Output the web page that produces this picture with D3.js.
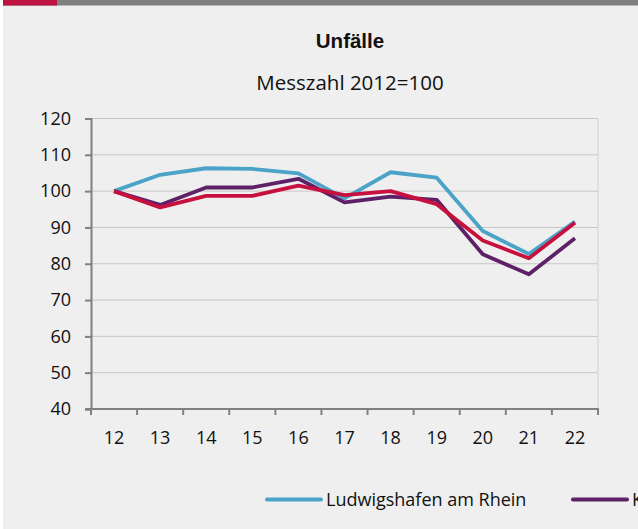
<!DOCTYPE html>
<html>
<head>
<meta charset="utf-8">
<script src="https://cdn.jsdelivr.net/npm/d3@7"></script>
<style>
  body { margin: 0; background: #fff; }
  svg { display: block; }
</style>
</head>
<body>
<div class="chart"></div>
<script>
var years = ['12', '13', '14', '15', '16', '17', '18', '19', '20', '21', '22'];
var yTicks = [40, 50, 60, 70, 80, 90, 100, 110, 120];
var seriesNames = ['Ludwigshafen am Rhein', 'Kreisfreie Städte', 'Rheinland-Pfalz'];
var ludwigshafen = [100, 104.5, 106.3, 106.1, 104.9, 98.0, 105.2, 103.7, 89.0, 82.7, 91.6];
var kreisfreie = [100, 96.2, 101.0, 101.0, 103.4, 96.9, 98.5, 97.6, 82.6, 77.1, 87.0];
var rlp = [100, 95.5, 98.7, 98.7, 101.5, 98.9, 100.0, 96.4, 86.4, 81.5, 91.3];
var colors = ['#4ba3c7', '#5e2066', '#c8103e'];

var W = 638, H = 529;
var plot = {left: 91, right: 598, top: 118.5, bottom: 409};
var font = 'Open Sans, Noto Sans, sans-serif';

var svg = d3.select('.chart').append('svg')
  .attr('width', W)
  .attr('height', H);

// panel + header bar
svg.append('rect').attr('x', 3).attr('y', 0).attr('width', W - 3).attr('height', H).attr('fill', '#eeefee');
svg.append('rect').attr('x', 3).attr('y', 0).attr('width', W - 3).attr('height', 5.5).attr('fill', '#808080');
svg.append('rect').attr('x', 3).attr('y', 0).attr('width', 54).attr('height', 5.5).attr('fill', '#be1341');

svg.append('text')
  .attr('x', 350).attr('y', 48)
  .attr('text-anchor', 'middle')
  .attr('font-family', 'Liberation Sans, Arial, sans-serif')
  .attr('font-weight', 'bold')
  .attr('font-size', 20.5)
  .attr('fill', '#111')
  .text('Unfälle');

svg.append('text')
  .attr('x', 350).attr('y', 90)
  .attr('text-anchor', 'middle')
  .attr('font-family', font)
  .attr('font-size', 20.5)
  .attr('fill', '#111')
  .text('Messzahl 2012=100');

var x = d3.scaleBand()
  .domain(years)
  .range([plot.left, plot.right]);

var y = d3.scaleLinear()
  .domain([40, 120])
  .range([plot.bottom, plot.top]);

// gridlines
svg.append('g').selectAll('line')
  .data(yTicks.slice(1))
  .enter().append('line')
    .attr('x1', plot.left).attr('x2', plot.right)
    .attr('y1', d => y(d)).attr('y2', d => y(d))
    .attr('stroke', '#c6c6c6')
    .attr('stroke-width', 1);

// right border of plot
svg.append('line')
  .attr('x1', plot.right).attr('x2', plot.right)
  .attr('y1', plot.top).attr('y2', plot.bottom)
  .attr('stroke', '#d6d6d6')
  .attr('stroke-width', 1.2);

// y axis
var yAxis = d3.axisLeft(y).tickValues(yTicks).tickSize(6).tickPadding(14);
var gY = svg.append('g')
  .attr('transform', `translate(${plot.left}, 0)`)
  .call(yAxis);
gY.select('.domain').attr('stroke', '#808080').attr('stroke-width', 2);
gY.selectAll('.tick line').attr('stroke', '#808080').attr('stroke-width', 2);
gY.selectAll('.tick text')
  .attr('font-family', font)
  .attr('font-size', 18)
  .attr('fill', '#111');

// x axis: ticks at band edges, labels at band centres
var edges = years.map(d => x(d)).concat([plot.right]);
var gX = svg.append('g');
gX.append('line')
  .attr('x1', plot.left - 6).attr('x2', plot.right + 1)
  .attr('y1', plot.bottom).attr('y2', plot.bottom)
  .attr('stroke', '#808080').attr('stroke-width', 2);
gX.selectAll('.xt')
  .data(edges)
  .enter().append('line')
    .attr('class', 'xt')
    .attr('x1', d => d).attr('x2', d => d)
    .attr('y1', plot.bottom).attr('y2', plot.bottom + 6)
    .attr('stroke', '#808080').attr('stroke-width', 2);
gX.selectAll('text')
  .data(years)
  .enter().append('text')
    .attr('x', d => x(d) + x.bandwidth() / 2)
    .attr('y', plot.bottom + 35)
    .attr('text-anchor', 'middle')
    .attr('font-family', font)
    .attr('font-size', 18)
    .attr('fill', '#111')
    .text(d => d);

// series
var series = [ludwigshafen, kreisfreie, rlp];
var line = d3.line()
  .x((d, i) => x(years[i]) + x.bandwidth() / 2)
  .y(d => y(d));

svg.append('g').selectAll('path')
  .data(series)
  .enter().append('path')
    .attr('d', d => line(d))
    .attr('fill', 'none')
    .attr('stroke', (d, i) => colors[i])
    .attr('stroke-width', 3.8)
    .attr('stroke-linejoin', 'round');

// legend (runs past the right edge, as in the original)
var legendX = [267, 573, 900];
var legend = svg.append('g').selectAll('g')
  .data(seriesNames)
  .enter().append('g')
    .attr('transform', (d, i) => `translate(${legendX[i]}, 499.5)`);
legend.append('line')
  .attr('x1', 0).attr('x2', 54)
  .attr('stroke', (d, i) => colors[i])
  .attr('stroke-width', 4)
  .attr('stroke-linecap', 'round');
legend.append('text')
  .attr('x', 59).attr('y', 6.5)
  .attr('font-family', font)
  .attr('font-size', 18)
  .attr('fill', '#111')
  .text(d => d);
</script>
</body>
</html>
